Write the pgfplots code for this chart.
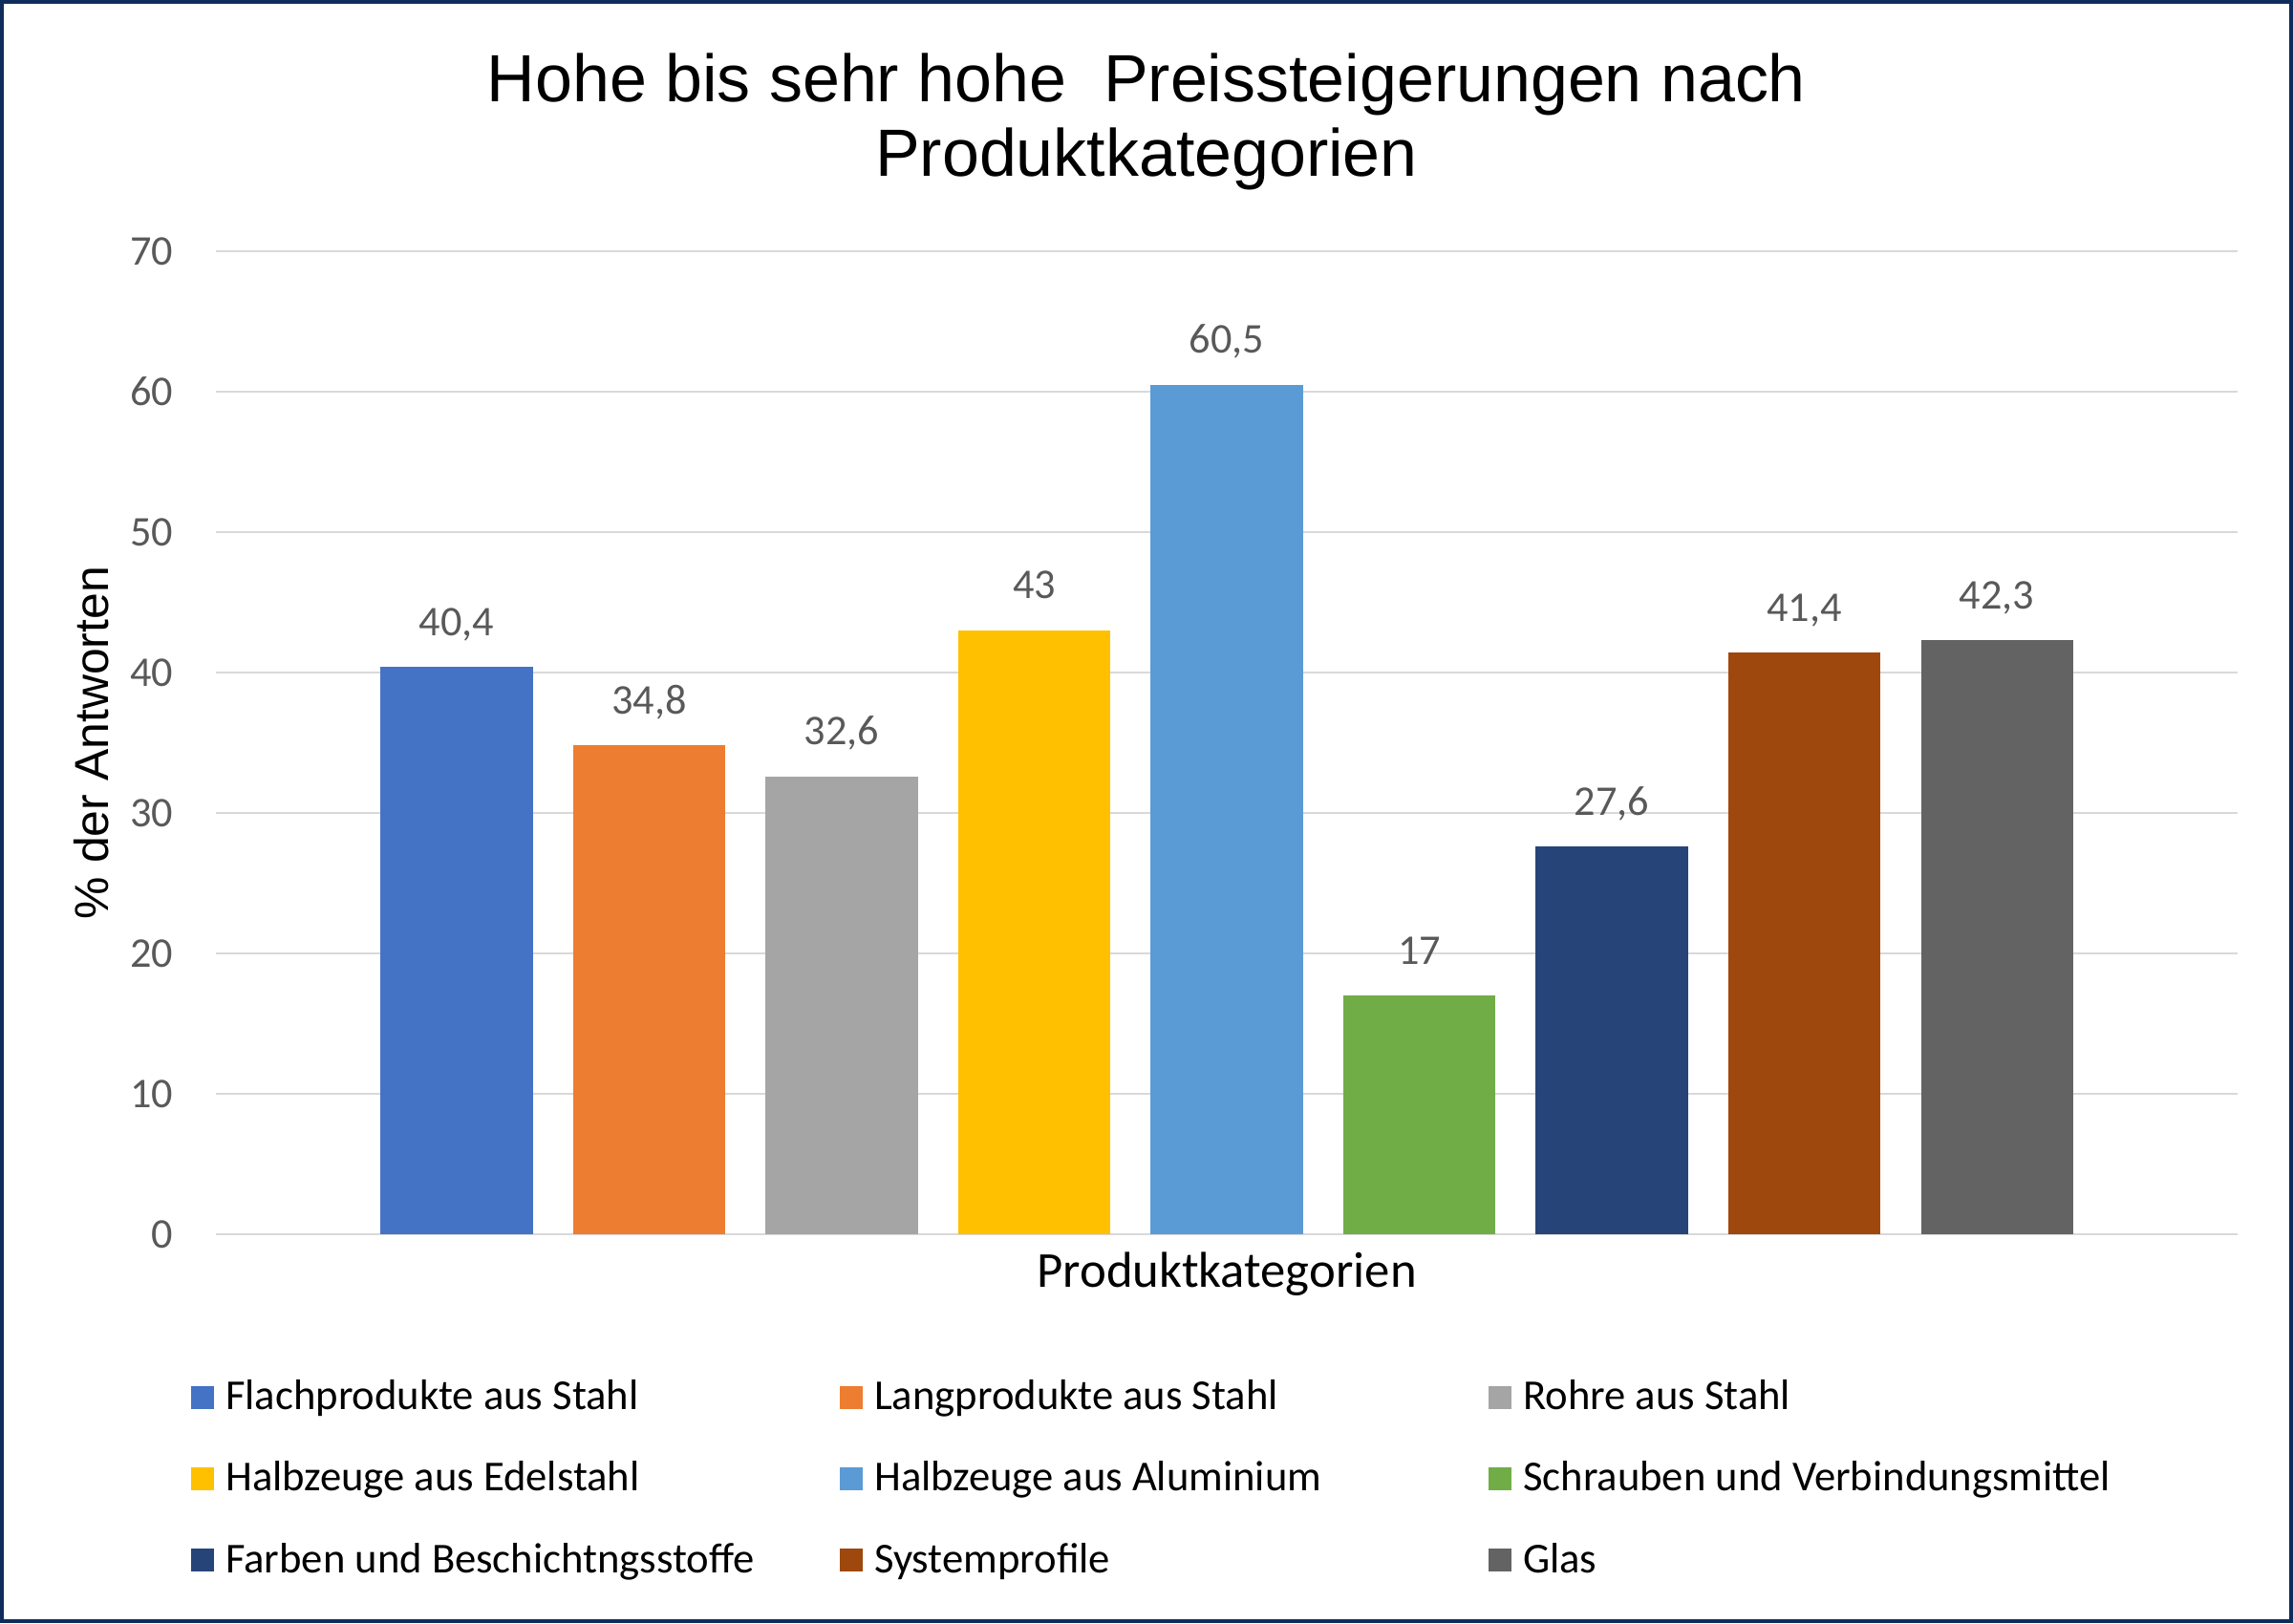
\documentclass[border=0pt]{standalone}
\usepackage{pgfplots}
\pgfplotsset{compat=1.18}
\usepackage{fontspec}
\setmainfont{Carlito}
\newfontfamily\arial{Liberation Sans}
\definecolor{c1}{HTML}{4472C4}
\definecolor{c2}{HTML}{ED7D31}
\definecolor{c3}{HTML}{A5A5A5}
\definecolor{c4}{HTML}{FFC000}
\definecolor{c5}{HTML}{5B9BD5}
\definecolor{c6}{HTML}{70AD47}
\definecolor{c7}{HTML}{264478}
\definecolor{c8}{HTML}{9E480E}
\definecolor{c9}{HTML}{636363}
\definecolor{framec}{HTML}{0F2D5C}
\definecolor{gridc}{HTML}{D9D9D9}
\definecolor{labc}{HTML}{595959}
\newcommand{\lab}{\fontsize{12.6}{14}\selectfont}
\newcommand{\leg}[1]{\hspace{0.12cm}\makebox[6.43cm][l]{#1}}
\begin{document}
\begin{tikzpicture}
\path[use as bounding box] (0,0) rectangle (24,16.99);
\draw[line width=0.4mm, color=framec] (0.02,0.02) rectangle (23.98,16.97);
\node[font=\arial\fontsize{19.9}{22}\selectfont, anchor=base, inner sep=0pt] at (12,15.92) {Hohe bis sehr hohe\ \ Preissteigerungen nach};
\node[font=\arial\fontsize{19.9}{22}\selectfont, anchor=base, inner sep=0pt] at (12,15.14) {Produktkategorien};
\begin{axis}[
  at={(2.26cm,4.07cm)}, anchor=south west,
  width=21.16cm, height=10.29cm, scale only axis,
  ybar,
  xmin=-1.25, xmax=9.25, ymin=0, ymax=70,
  ytick={0,10,...,70}, xtick=\empty,
  axis line style={draw=none},
  tick style={draw=none},
  ymajorgrids,
  grid style={color=gridc, line width=0.75pt},
  /pgf/number format/use comma,
  /pgf/number format/assume math mode=true,
  yticklabel style={font=\lab, color=labc, inner sep=0pt, xshift=-0.44cm},
  nodes near coords,
  every node near coord/.append style={font=\lab, color=labc, anchor=base, inner sep=0pt, yshift=0.33cm},
  xlabel={Produktkategorien},
  xlabel style={font=\fontsize{15}{17}\selectfont, color=black, at={(axis description cs:0.5,-0.0535)}, anchor=base, inner sep=0pt},
  ylabel={\% der Antworten},
  ylabel style={font=\arial\fontsize{14.2}{16}\selectfont, color=black, at={(axis description cs:-0.0614,0.5)}, anchor=center, inner sep=0pt},
  legend image code/.code={\fill[#1] (0cm,-0.12cm) rectangle (0.24cm,0.12cm);},
  legend columns=3,
  legend cell align=left,
  legend style={draw=none, fill=none, at={(-0.0175,-0.1409)}, anchor=north west,
    font=\fontsize{12.7}{14}\selectfont, text=black,
    nodes={inner sep=0pt}, column sep=0pt, row sep=0.49cm},
]
\addplot[fill=c1, draw=none, bar width=0.79, bar shift=0pt] coordinates {(0,40.4)};
\addlegendentry{\leg{Flachprodukte aus Stahl}}
\addplot[fill=c2, draw=none, bar width=0.79, bar shift=0pt] coordinates {(1,34.8)};
\addlegendentry{\leg{Langprodukte aus Stahl}}
\addplot[fill=c3, draw=none, bar width=0.79, bar shift=0pt] coordinates {(2,32.6)};
\addlegendentry{\leg{Rohre aus Stahl}}
\addplot[fill=c4, draw=none, bar width=0.79, bar shift=0pt] coordinates {(3,43)};
\addlegendentry{\leg{Halbzeuge aus Edelstahl}}
\addplot[fill=c5, draw=none, bar width=0.79, bar shift=0pt] coordinates {(4,60.5)};
\addlegendentry{\leg{Halbzeuge aus Aluminium}}
\addplot[fill=c6, draw=none, bar width=0.79, bar shift=0pt] coordinates {(5,17)};
\addlegendentry{\leg{Schrauben und Verbindungsmittel}}
\addplot[fill=c7, draw=none, bar width=0.79, bar shift=0pt] coordinates {(6,27.6)};
\addlegendentry{\leg{Farben und Beschichtngsstoffe}}
\addplot[fill=c8, draw=none, bar width=0.79, bar shift=0pt] coordinates {(7,41.4)};
\addlegendentry{\leg{Systemprofile}}
\addplot[fill=c9, draw=none, bar width=0.79, bar shift=0pt] coordinates {(8,42.3)};
\addlegendentry{\leg{Glas}}
\end{axis}
\end{tikzpicture}
\end{document}
